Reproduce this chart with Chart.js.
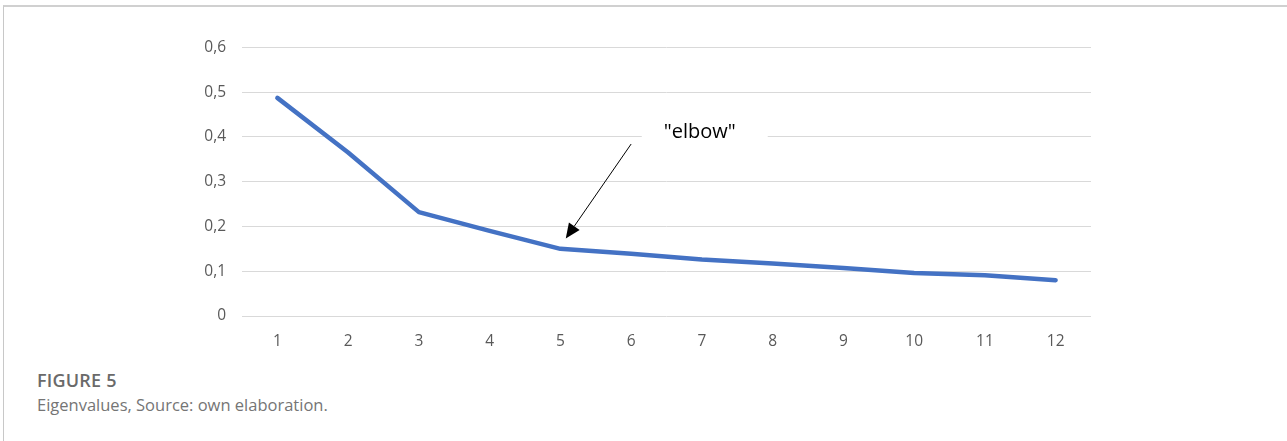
<!DOCTYPE html>
<html>
<head>
<meta charset="utf-8">
<script src="https://cdn.jsdelivr.net/npm/chart.js@4.4.1/dist/chart.umd.min.js"></script>
<style>
  html, body { margin: 0; padding: 0; background: #fff; }
  body { width: 1287px; height: 441px; position: relative; overflow: hidden; }
  #frame { position: absolute; left: 3px; top: 5px; width: 1290px; height: 450px;
           border-top: 2px solid #d0d0d0; border-left: 1px solid #c8c8c8; }
  #wrap { position: absolute; left: 180px; top: 22px; width: 911px; height: 338px; }
  #cap1 { position: absolute; left: 37px; top: 368px; font-family: "Open Sans", sans-serif;
          font-weight: 600; font-size: 18px; color: #6a6a6a; letter-spacing: 0.2px; }
  #cap2 { position: absolute; left: 37px; top: 393px; font-family: "Open Sans", sans-serif;
          font-weight: 400; font-size: 16.5px; color: #757575; }
</style>
</head>
<body>
<div id="frame"></div>
<div id="wrap"><canvas id="c"></canvas></div>
<div id="cap1">FIGURE 5</div>
<div id="cap2">Eigenvalues, Source: own elaboration.</div>
<script>
const categories = ["1","2","3","4","5","6","7","8","9","10","11","12"];
const eigenvalues = [0.487, 0.365, 0.232, 0.190, 0.150, 0.139, 0.126, 0.117, 0.107, 0.096, 0.091, 0.080];
const yTickLabels = ["0","0,1","0,2","0,3","0,4","0,5","0,6"];
const annotationText = "\"elbow\"";
// annotation anchors in data coordinates (category index, value)
const arrowFrom = [5.0, 0.384];
const arrowTo = [4.076, 0.173];
const labelAt = [5.97, 0.410];

const annotationPlugin = {
  id: 'elbowAnnotation',
  afterDatasetsDraw(chart) {
    const ctx = chart.ctx, xs = chart.scales.x, ys = chart.scales.y;
    const x1 = xs.getPixelForValue(arrowFrom[0]), y1 = ys.getPixelForValue(arrowFrom[1]);
    const x2 = xs.getPixelForValue(arrowTo[0]), y2 = ys.getPixelForValue(arrowTo[1]);
    const lx = xs.getPixelForValue(labelAt[0]), ly = ys.getPixelForValue(labelAt[1]);
    ctx.save();
    ctx.font = '20px "Open Sans", sans-serif';
    const w = ctx.measureText(annotationText).width;
    ctx.fillStyle = '#fff';
    ctx.fillRect(lx - w / 2 - 22, ly - 14, w + 54, 28);
    ctx.fillStyle = '#000';
    ctx.textAlign = 'center';
    ctx.textBaseline = 'middle';
    ctx.fillText(annotationText, lx, ly);
    const ang = Math.atan2(y2 - y1, x2 - x1);
    const head = 15, half = 6.5;
    const bx = x2 - head * Math.cos(ang), by = y2 - head * Math.sin(ang);
    ctx.strokeStyle = '#000';
    ctx.lineWidth = 1;
    ctx.beginPath();
    ctx.moveTo(x1, y1);
    ctx.lineTo(bx, by);
    ctx.stroke();
    ctx.beginPath();
    ctx.moveTo(x2, y2);
    ctx.lineTo(bx + half * Math.sin(ang), by - half * Math.cos(ang));
    ctx.lineTo(bx - half * Math.sin(ang), by + half * Math.cos(ang));
    ctx.closePath();
    ctx.fillStyle = '#000';
    ctx.fill();
    ctx.restore();
  }
};

new Chart(document.getElementById('c'), {
  type: 'line',
  data: {
    labels: categories,
    datasets: [{
      data: eigenvalues,
      borderColor: '#4472C4',
      borderWidth: 4.5,
      borderCapStyle: 'round',
      borderJoinStyle: 'round',
      pointRadius: 0,
      pointHoverRadius: 0,
      tension: 0,
      fill: false
    }]
  },
  options: {
    responsive: true,
    maintainAspectRatio: false,
    animation: false,
    events: [],
    layout: { padding: { top: 16, right: 0, left: 0, bottom: 0 } },
    plugins: { legend: { display: false }, tooltip: { enabled: false } },
    scales: {
      x: {
        offset: true,
        grid: { display: false, drawTicks: false },
        border: { display: false },
        ticks: { color: '#595959', padding: 16, font: { family: '"Open Sans", sans-serif', size: 15.5 } },
        afterFit(s) { s.height = 44; }
      },
      y: {
        min: 0, max: 0.6,
        ticks: {
          stepSize: 0.1,
          color: '#595959',
          padding: 16,
          font: { family: '"Open Sans", sans-serif', size: 15.5 },
          callback: (v, i) => yTickLabels[i]
        },
        grid: { color: '#d9d9d9', lineWidth: 1, drawTicks: false },
        border: { display: false },
        afterFit(s) { s.width = 62; }
      }
    }
  },
  plugins: [annotationPlugin]
});
</script>
</body>
</html>
